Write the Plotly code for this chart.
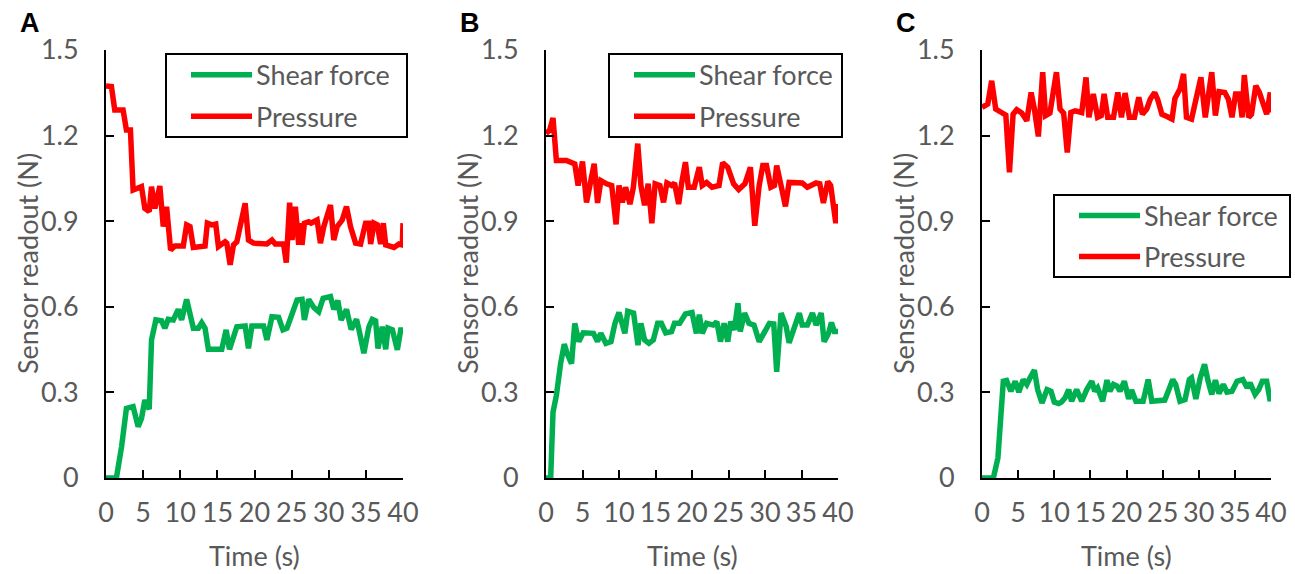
import plotly.graph_objects as go

# ---------------- data ----------------
a_shear_t = [0, 1.4, 2.1, 2.75, 3.65, 4.33, 4.78, 5.23, 5.82, 6.13, 6.72, 7.48, 7.93, 8.38, 9.06, 9.73, 10.18, 10.86,
             11.76, 12.44, 12.89, 13.34, 13.79, 14.69, 15.59, 16.18, 16.63, 17.62, 18.74, 19.19, 19.65, 21.22, 21.67,
             22.35, 23.25, 23.83, 24.37, 25.73, 26.4, 26.72, 27.3, 27.98, 28.65, 29.24, 30.23, 30.68, 31.22, 31.67,
             32.39, 33.02, 33.74, 34.06, 34.73, 35.41, 35.86, 36.31, 36.63, 37.21, 37.67, 37.98, 38.57, 39.24, 39.69, 40]
a_shear_v = [0, 0, 0.110, 0.244, 0.250, 0.180, 0.209, 0.273, 0.241, 0.484, 0.554, 0.551, 0.525, 0.556, 0.554, 0.591,
             0.554, 0.626, 0.525, 0.525, 0.544, 0.525, 0.451, 0.449, 0.451, 0.519, 0.451, 0.530, 0.533, 0.454, 0.533,
             0.533, 0.484, 0.565, 0.563, 0.519, 0.525, 0.624, 0.626, 0.554, 0.626, 0.598, 0.583, 0.630, 0.636, 0.591,
             0.622, 0.554, 0.591, 0.521, 0.556, 0.521, 0.437, 0.530, 0.556, 0.551, 0.454, 0.530, 0.451, 0.525, 0.519,
             0.449, 0.519, 0.519]
a_press_t = [0, 0.73, 1.18, 2.3, 2.75, 3.29, 3.65, 4.78, 5.23, 5.82, 6.13, 6.58, 7.25, 7.71, 8.16, 8.7, 9.28, 10.41,
             10.86, 11.31, 11.76, 13.34, 13.65, 14.24, 14.78, 15.14, 16.04, 16.27, 16.72, 17.17, 17.62, 18.07, 18.74,
             19.19, 19.87, 21.67, 22.35, 22.8, 23.92, 24.28, 24.73, 25.05, 25.5, 25.95, 26.18, 26.4, 26.72, 27.3,
             27.62, 27.98, 28.43, 28.88, 29.33, 30.23, 30.68, 31.13, 31.81, 32.39, 32.93, 33.61, 34.28, 34.96, 35.41,
             35.64, 36.09, 36.54, 36.99, 37.35, 37.67, 38.79, 39.46, 39.91, 40]
a_press_v = [1.374, 1.372, 1.290, 1.290, 1.220, 1.220, 1.009, 1.021, 0.945, 0.934, 1.021, 0.945, 1.023, 0.881, 0.951,
             0.799, 0.813, 0.813, 0.887, 0.881, 0.808, 0.813, 0.893, 0.887, 0.890, 0.811, 0.828, 0.823, 0.747, 0.817,
             0.828, 0.881, 0.963, 0.834, 0.823, 0.820, 0.834, 0.820, 0.820, 0.755, 0.965, 0.834, 0.951, 0.817, 0.893,
             0.817, 0.893, 0.898, 0.893, 0.898, 0.904, 0.823, 0.881, 0.957, 0.834, 0.881, 0.904, 0.951, 0.881, 0.823,
             0.820, 0.893, 0.893, 0.820, 0.893, 0.887, 0.820, 0.893, 0.817, 0.808, 0.820, 0.817, 0.893]

b_shear_t = [0, 0.64, 0.96, 1.42, 2.0, 2.5, 2.9, 3.5, 3.94, 4.5, 5.1, 6.5, 7.06, 7.5, 8.2, 8.9, 9.45, 10.0, 10.8, 11.2,
             12.0, 12.6, 13.0, 13.5, 14.1, 14.7, 15.3, 15.8, 16.4, 17.2, 17.6, 18.3, 19.1, 20.0, 20.6, 21.0, 21.4,
             22.0, 22.9, 23.4, 23.9, 24.4, 24.9, 25.3, 25.8, 26.3, 26.6, 27.2, 27.8, 28.5, 29.2, 29.9, 30.6, 31.2,
             31.6, 32.2, 32.9, 33.3, 34.1, 34.7, 35.1, 35.8, 36.5, 37.0, 37.7, 38.1, 38.7, 39.1, 39.5, 40]
b_shear_v = [0, 0.0, 0.231, 0.289, 0.401, 0.469, 0.436, 0.401, 0.542, 0.478, 0.509, 0.507, 0.478, 0.507, 0.472, 0.478,
             0.542, 0.580, 0.507, 0.584, 0.578, 0.466, 0.542, 0.484, 0.472, 0.484, 0.542, 0.542, 0.509, 0.513, 0.542,
             0.542, 0.575, 0.580, 0.507, 0.572, 0.507, 0.542, 0.536, 0.548, 0.478, 0.542, 0.478, 0.548, 0.519, 0.613,
             0.513, 0.578, 0.542, 0.536, 0.478, 0.509, 0.542, 0.540, 0.372, 0.578, 0.531, 0.474, 0.531, 0.578, 0.536,
             0.536, 0.578, 0.536, 0.578, 0.478, 0.507, 0.545, 0.513, 0.513]
b_press_t = [0, 0.5, 0.96, 1.42, 2.8, 3.94, 4.4, 5.0, 5.55, 6.0, 6.6, 7.06, 7.52, 8.3, 9.0, 9.6, 10.0, 10.46, 10.9,
             11.5, 11.97, 12.57, 13.0, 13.5, 14.0, 14.5, 14.95, 15.6, 16.1, 16.56, 17.2, 17.6, 18.17, 18.6, 19.1,
             19.5, 20.3, 21.0, 21.4, 22.0, 22.75, 23.7, 24.2, 24.9, 25.7, 26.4, 27.25, 28.0, 28.6, 29.2, 29.7, 30.2,
             30.8, 31.3, 31.6, 32.2, 32.8, 33.3, 35.1, 35.8, 36.5, 37.0, 37.5, 38.0, 38.6, 39.0, 39.7, 40]
b_press_v = [1.207, 1.219, 1.262, 1.113, 1.113, 1.101, 1.025, 1.109, 0.966, 1.025, 1.101, 0.964, 1.042, 1.031, 1.025,
             0.889, 1.025, 0.966, 1.019, 0.960, 1.019, 1.172, 1.025, 0.956, 1.031, 0.893, 1.031, 1.025, 0.966, 1.034,
             1.025, 1.034, 0.960, 1.036, 1.107, 1.019, 1.019, 1.089, 1.025, 1.036, 1.019, 1.025, 1.105, 1.089, 1.031,
             1.011, 1.031, 1.089, 0.884, 1.025, 1.095, 1.095, 1.019, 1.025, 1.095, 1.025, 0.952, 1.036, 1.034, 1.019,
             1.025, 1.034, 1.031, 0.964, 1.039, 1.025, 0.893, 0.960]

c_shear_t = [0, 1.57, 2.2, 2.95, 3.4, 4.0, 4.6, 5.1, 5.7, 6.2, 6.65, 7.25, 7.7, 8.3, 9.0, 9.55, 10.0, 10.6, 11.0, 11.5,
             12.0, 12.4, 13.1, 13.8, 14.5, 15.2, 15.6, 16.0, 16.7, 17.3, 17.7, 18.2, 18.7, 19.1, 19.7, 20.3, 20.7,
             21.3, 22.3, 23.0, 23.5, 24.4, 25.3, 25.9, 26.4, 26.8, 27.4, 28.1, 28.7, 29.0, 29.6, 30.2, 30.8, 31.3,
             31.8, 32.3, 32.8, 33.4, 33.9, 34.6, 35.3, 36.1, 36.7, 37.1, 37.8, 38.3, 38.8, 39.4, 39.9, 40]
c_shear_v = [0, 0, 0.070, 0.339, 0.342, 0.304, 0.339, 0.301, 0.345, 0.328, 0.351, 0.378, 0.310, 0.263, 0.310, 0.304,
             0.266, 0.261, 0.266, 0.281, 0.310, 0.269, 0.310, 0.269, 0.310, 0.339, 0.304, 0.316, 0.269, 0.343, 0.304,
             0.328, 0.322, 0.304, 0.339, 0.277, 0.308, 0.269, 0.269, 0.345, 0.269, 0.269, 0.273, 0.312, 0.345, 0.328,
             0.269, 0.275, 0.345, 0.351, 0.277, 0.351, 0.398, 0.339, 0.293, 0.343, 0.296, 0.328, 0.301, 0.304, 0.339,
             0.345, 0.316, 0.333, 0.293, 0.310, 0.339, 0.339, 0.269, 0.310]
c_press_t = [0, 0.8, 1.34, 1.9, 2.7, 3.3, 3.8, 4.3, 4.8, 5.5, 6.2, 6.8, 7.25, 7.8, 8.4, 8.8, 9.4, 9.9, 10.3, 10.8, 11.3,
             11.8, 12.3, 12.9, 13.8, 14.4, 14.8, 15.4, 16.0, 16.5, 16.9, 17.4, 18.2, 18.8, 19.3, 19.8, 20.4, 21.1,
             21.7, 22.2, 22.8, 23.3, 23.9, 24.3, 24.9, 25.6, 26.3, 26.7, 27.4, 27.9, 28.3, 29.0, 29.7, 30.3, 30.9,
             31.3, 31.8, 32.3, 32.8, 33.6, 34.1, 34.6, 35.1, 35.6, 36.0, 36.3, 36.9, 37.3, 37.9, 38.4, 39.0, 39.4,
             39.9, 40]
c_press_v = [1.299, 1.311, 1.392, 1.293, 1.281, 1.272, 1.071, 1.275, 1.291, 1.279, 1.252, 1.351, 1.293, 1.197, 1.422,
             1.270, 1.279, 1.363, 1.422, 1.293, 1.279, 1.141, 1.281, 1.287, 1.281, 1.404, 1.264, 1.346, 1.264, 1.270,
             1.346, 1.264, 1.264, 1.351, 1.264, 1.349, 1.264, 1.264, 1.334, 1.275, 1.293, 1.328, 1.351, 1.328, 1.275,
             1.267, 1.258, 1.330, 1.363, 1.416, 1.264, 1.258, 1.334, 1.404, 1.264, 1.334, 1.422, 1.270, 1.354, 1.351,
             1.328, 1.264, 1.346, 1.346, 1.264, 1.412, 1.264, 1.275, 1.375, 1.351, 1.305, 1.275, 1.351, 1.281]

panel_labels = ["A", "B", "C"]
series_names = ["Shear force", "Pressure"]
y_ticks = [0, 0.3, 0.6, 0.9, 1.2, 1.5]
y_tick_text = ["0", "0.3", "0.6", "0.9", "1.2", "1.5"]
x_ticks = [0, 5, 10, 15, 20, 25, 30, 35, 40]
x_title = "Time (s)"
y_title = "Sensor readout (N)"

GREEN = "#00B050"
RED = "#FF0000"
GRAY = "#595959"
FONT = "Lato"
FS = 27
LW = 5.5
W, H = 1295, 574

def px(x):
    return x / W

def py(y):
    return 1 - y / H

# plot areas in pixels (left, right); shared top/bottom
areas = [(106, 403), (546, 838), (982, 1271)]
top_px, bot_px = 50, 478
# legend boxes: (left, top, right, bottom) in pixels
legend_boxes = [(166, 54, 407, 137), (609, 54, 842, 137), (1054, 195, 1290, 277)]

fig = go.Figure()
panels = [
    (a_shear_t, a_shear_v, a_press_t, a_press_v),
    (b_shear_t, b_shear_v, b_press_t, b_press_v),
    (c_shear_t, c_shear_v, c_press_t, c_press_v),
]

shapes = []
annotations = []
for i, (st, sv, pt, pv) in enumerate(panels):
    suffix = "" if i == 0 else str(i + 1)
    xa, ya = "x" + suffix, "y" + suffix
    fig.add_trace(go.Scatter(x=pt, y=pv, mode="lines", name=series_names[1], xaxis=xa, yaxis=ya,
                             line=dict(color=RED, width=LW), showlegend=False))
    fig.add_trace(go.Scatter(x=st, y=sv, mode="lines", name=series_names[0], xaxis=xa, yaxis=ya,
                             line=dict(color=GREEN, width=LW), showlegend=False))
    l, r = areas[i]
    axis_common = dict(showgrid=False, zeroline=False, showline=True, linecolor="black", linewidth=2,
                       ticks="inside", ticklen=8, tickwidth=2, tickcolor="black", automargin=False,
                       tickfont=dict(family=FONT, size=FS, color=GRAY))
    fig.layout["xaxis" + suffix] = dict(domain=[px(l), px(r)], range=[0, 40], anchor=ya,
                                        tickvals=x_ticks, ticklabelstandoff=10, **axis_common)
    fig.layout["yaxis" + suffix] = dict(domain=[py(bot_px), py(top_px)], range=[0, 1.5], anchor=xa,
                                        tickvals=y_ticks, ticktext=y_tick_text, ticklabelstandoff=20,
                                        **axis_common)
    # axis titles & panel label
    annotations.append(dict(text=x_title, xref="paper", yref="paper", x=px((l + r) / 2), y=py(555),
                            showarrow=False, font=dict(family=FONT, size=FS, color=GRAY),
                            xanchor="center", yanchor="middle"))
    annotations.append(dict(text=y_title, xref="paper", yref="paper", x=px(l - 79), y=py((top_px + bot_px) / 2),
                            showarrow=False, textangle=-90, font=dict(family=FONT, size=FS, color=GRAY),
                            xanchor="center", yanchor="middle"))
    annotations.append(dict(text="<b>" + panel_labels[i] + "</b>", xref="paper", yref="paper",
                            x=px(l - 76), y=py(23), showarrow=False,
                            font=dict(family="Liberation Sans", size=27, color="black"),
                            xanchor="center", yanchor="middle"))
    # custom legend box
    bl, bt, br, bb = legend_boxes[i]
    shapes.append(dict(type="rect", xref="paper", yref="paper", x0=px(bl), x1=px(br), y0=py(bb), y1=py(bt),
                       line=dict(color="black", width=2), fillcolor="white", layer="above"))
    row_h = (bb - bt) / 2
    for k, (nm, col) in enumerate([(series_names[0], GREEN), (series_names[1], RED)]):
        yc = bt + row_h * (k + 0.5)
        shapes.append(dict(type="line", xref="paper", yref="paper", x0=px(bl + 25), x1=px(bl + 86),
                           y0=py(yc), y1=py(yc), line=dict(color=col, width=LW), layer="above"))
        annotations.append(dict(text=nm, xref="paper", yref="paper", x=px(bl + 88), y=py(yc),
                                showarrow=False, font=dict(family=FONT, size=FS, color=GRAY),
                                xanchor="left", yanchor="middle"))

fig.update_layout(template="none", width=W, height=H, margin=dict(l=0, r=0, t=0, b=0, pad=0),
                  paper_bgcolor="white", plot_bgcolor="white",
                  shapes=shapes, annotations=annotations, showlegend=False)
fig.write_html("out.html")
